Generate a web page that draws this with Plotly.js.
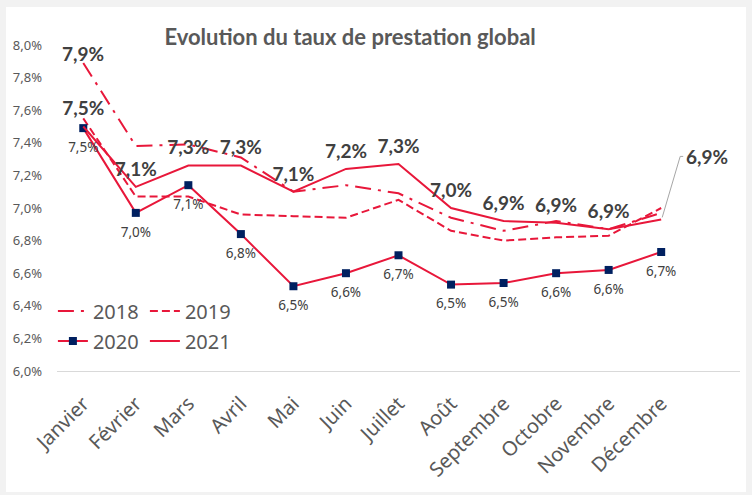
<!DOCTYPE html>
<html><head><meta charset="utf-8">
<script src="https://cdn.plot.ly/plotly-3.0.1.min.js"></script>
<style>
html,body{margin:0;padding:0;background:#f2f2f2;width:752px;height:495px;overflow:hidden}
#chart{position:absolute;left:6px;top:7px;width:740px;height:485px;background:#fff}
</style></head><body><div id="chart"></div>
<script>
const months = ['Janvier','Février','Mars','Avril','Mai','Juin','Juillet','Août','Septembre','Octobre','Novembre','Décembre'];
const y2018 = [7.89,7.38,7.39,7.31,7.10,7.14,7.09,6.94,6.86,6.92,6.87,6.97];
const y2019 = [7.55,7.07,7.07,6.96,6.95,6.94,7.05,6.86,6.80,6.82,6.83,7.00];
const y2020 = [7.49,6.97,7.14,6.84,6.52,6.60,6.71,6.53,6.54,6.60,6.62,6.73];
const y2021 = [7.50,7.13,7.26,7.26,7.10,7.24,7.27,7.00,6.92,6.91,6.87,6.93];
const yTicks = [6.0,6.2,6.4,6.6,6.8,7.0,7.2,7.4,7.6,7.8,8.0];
const seriesNames = ['2018','2019','2020','2021'];

const fmt = v => v.toFixed(1).replace('.', ',') + '%';
const RED = '#e8173a';
const NAVY = '#002060';
const LBL = '#404040';
const BOLDFONT = {family: 'Lato', size: 19, color: LBL, weight: 'bold'};

const traces = [
  {x: months, y: y2018, name: seriesNames[0], type: 'scatter', mode: 'lines',
   line: {color: RED, width: 2, dash: '16px,7px,3px,7px'}, legend: 'legend', cliponaxis: false},
  {x: months, y: y2019, name: seriesNames[1], type: 'scatter', mode: 'lines',
   line: {color: RED, width: 2, dash: '8px,4px'}, legend: 'legend', cliponaxis: false},
  {x: months, y: y2020, name: seriesNames[2], type: 'scatter', mode: 'lines+markers',
   line: {color: RED, width: 2}, marker: {symbol: 'square', size: 8, color: NAVY},
   legend: 'legend2', cliponaxis: false},
  {x: months, y: y2021, name: seriesNames[3], type: 'scatter', mode: 'lines',
   line: {color: RED, width: 2}, legend: 'legend2', cliponaxis: false},
  // labels
  {x: months, y: y2020, type: 'scatter', mode: 'markers+text', text: y2020.map(fmt),
   marker: {size: 20, color: 'rgba(0,0,0,0)'},
   textposition: 'bottom center', textfont: {family: 'Noto Sans', size: 13.5, color: LBL},
   showlegend: false, hoverinfo: 'skip', cliponaxis: false},
  {x: months.slice(0, 11), y: y2021.slice(0, 11), type: 'scatter', mode: 'markers+text',
   text: y2021.slice(0, 11).map(fmt),
   marker: {size: 8.6, color: 'rgba(0,0,0,0)'},
   textposition: 'top center', textfont: BOLDFONT,
   showlegend: false, hoverinfo: 'skip', cliponaxis: false}
];

const layout = {
  width: 740, height: 485,
  margin: {l: 51, r: 6, t: 38, b: 121},
  paper_bgcolor: '#ffffff', plot_bgcolor: '#ffffff',
  showlegend: true,
  title: {text: 'Evolution du taux de prestation global', x: 0.465, xanchor: 'center', xref: 'container',
          y: 0.937, yanchor: 'middle', yref: 'container',
          font: {family: 'Lato', size: 22, color: '#595959', weight: 'bold'}},
  xaxis: {type: 'category', range: [-0.5, 12.5], showgrid: false, zeroline: false,
          showline: true, linecolor: '#d9d9d9', linewidth: 1, ticks: '',
          tickangle: -45, ticklabelstandoff: 12,
          tickfont: {family: 'Noto Sans', size: 20, color: '#595959'}},
  yaxis: {range: [6, 8], tickvals: yTicks, ticktext: yTicks.map(fmt), showgrid: false,
          zeroline: false, showline: false, ticks: '', ticklabelstandoff: 14,
          tickfont: {family: 'Noto Sans', size: 13, color: '#595959'}},
  legend: {orientation: 'h', x: -0.006, xanchor: 'left', y: 0.184, yanchor: 'middle',
           bgcolor: 'rgba(0,0,0,0)', font: {family: 'Noto Sans', size: 20, color: '#595959'},
           entrywidth: 47, entrywidthmode: 'pixels', itemwidth: 30, traceorder: 'normal'},
  legend2: {orientation: 'h', x: -0.006, xanchor: 'left', y: 0.092, yanchor: 'middle',
           bgcolor: 'rgba(0,0,0,0)', font: {family: 'Noto Sans', size: 20, color: '#595959'},
           entrywidth: 47, entrywidthmode: 'pixels', itemwidth: 30, traceorder: 'normal'},
  annotations: [
    {x: months[0], y: y2018[0], xref: 'x', yref: 'y', text: fmt(y2018[0]), showarrow: false,
     xanchor: 'center', yanchor: 'middle', yshift: 9, font: BOLDFONT},
    {x: months[11], y: y2021[11], xref: 'x', yref: 'y', text: fmt(y2021[11]), showarrow: false,
     xanchor: 'left', yanchor: 'middle', xshift: 23, yshift: 63,
     font: BOLDFONT}
  ],
  shapes: [
    {type: 'path', xref: 'x', yref: 'y', xsizemode: 'pixel', ysizemode: 'pixel',
     xanchor: months[11], yanchor: y2021[11], path: 'M1,2 L19,63 L22,63',
     line: {color: '#a6a6a6', width: 1}}
  ]
};

Plotly.newPlot('chart', traces, layout, {displayModeBar: false, staticPlot: true});
</script></body></html>
